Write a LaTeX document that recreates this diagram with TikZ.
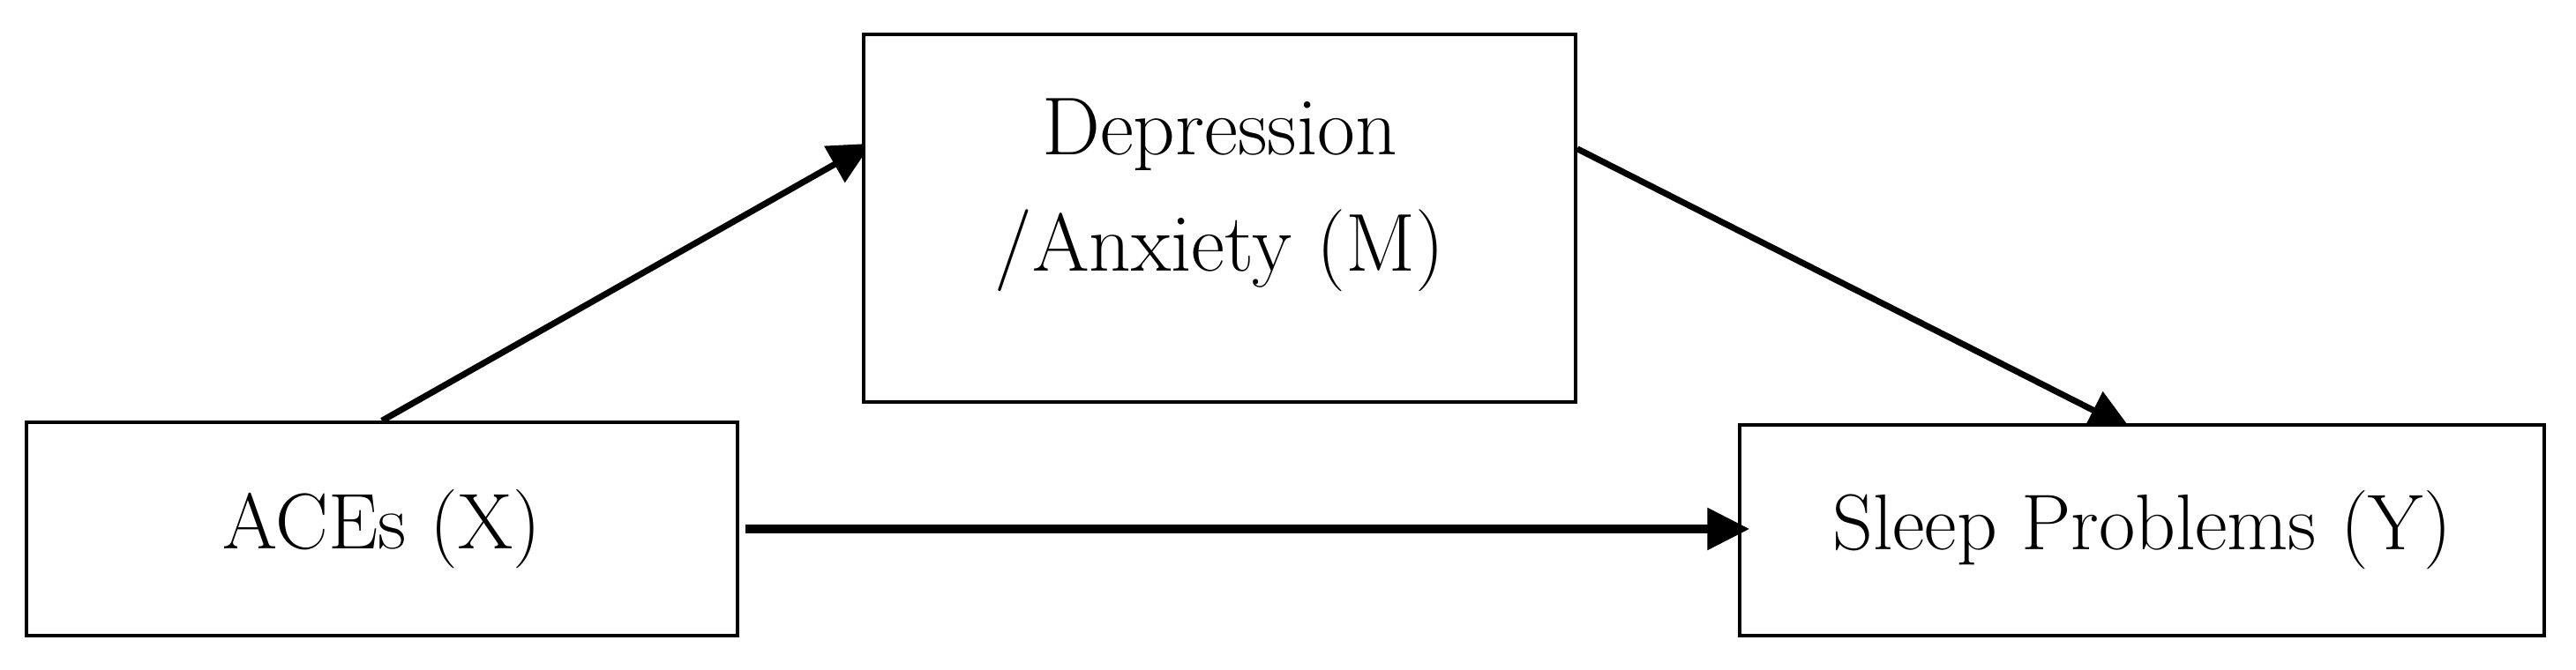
\documentclass[tikz,border=0pt]{standalone}
\usepackage{tikz}
\usetikzlibrary{arrows.meta,calc,positioning,backgrounds}
\tikzset{varbox/.style={draw,line width=1pt,fill=white,inner sep=2pt,align=center,
           font=\fontsize{25.5}{37.7}\selectfont},
         medarrow/.style={-{Triangle[length=4.8mm,width=4.6mm]},line width=2pt},
         dirarrow/.style={-{Triangle[length=4.8mm,width=4.6mm]},line width=2.6pt}}

\begin{document}
\begin{tikzpicture}
\useasboundingbox (0,0) rectangle (29.2,7.6);
% variables
\node[varbox,minimum width=8.06cm,minimum height=2.42cm] (aces) at (4.33,1.60) {ACEs (X)};
\node[varbox,minimum width=8.07cm,minimum height=4.17cm] (dep) at (13.825,5.125) {};
\node[align=center,font=\fontsize{26.5}{37.7}\selectfont] (deptext)
   at ([yshift=2.6mm]dep.center) {Depression\\/Anxiety (M)};
\node[varbox,minimum width=9.12cm,minimum height=2.39cm] (sleep) at (24.28,1.585) {Sleep Problems (Y)};
% indirect path
\begin{pgfonlayer}{background}
\draw[medarrow,shorten >=-1.2mm] (aces.north) -- (dep.169);
\draw[medarrow,shorten >=-1.5mm] (dep.11) -- (sleep.102);
\end{pgfonlayer}
% direct path
\draw[dirarrow,shorten <=0.7mm,shorten >=-1.3mm] (aces.east) -- (aces.east -| sleep.west);
\end{tikzpicture}
\end{document}
